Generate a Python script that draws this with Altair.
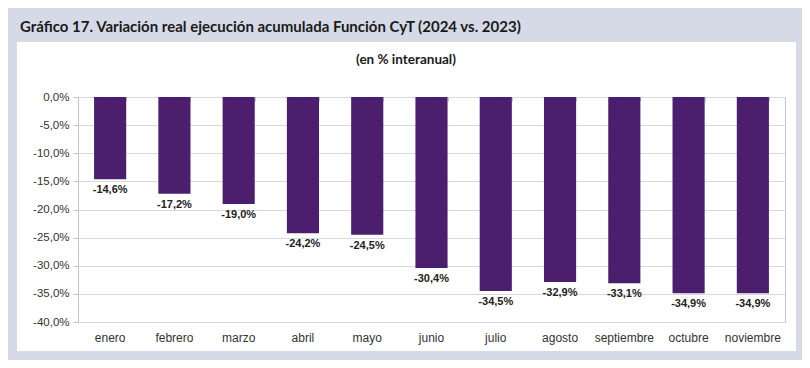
import altair as alt
import pandas as pd

months = ["enero", "febrero", "marzo", "abril", "mayo", "junio", "julio",
          "agosto", "septiembre", "octubre", "noviembre"]
values = [-14.6, -17.2, -19.0, -24.2, -24.5, -30.4, -34.5, -32.9, -33.1, -34.9, -34.9]
y_ticks = [0, -5, -10, -15, -20, -25, -30, -35, -40]
title_text = "Gráfico 17. Variación real ejecución acumulada Función CyT (2024 vs. 2023)"
subtitle_text = "(en % interanual)"

df = pd.DataFrame({"mes": months, "valor": values})
df["etiqueta"] = [f"{v:.1f}".replace(".", ",") + "%" for v in values]

PANEL = "#d5dae6"
BAR = "#4b1f6e"
LINE = "#c4c4c4"
GRID = "#d9d9d9"

one = pd.DataFrame({"d": [0]})

x_scale = alt.Scale(paddingInner=0.5, paddingOuter=0.25)
x_enc = alt.X("mes:N", sort=months, scale=x_scale,
              axis=alt.Axis(title=None, orient="bottom", domain=False, ticks=False,
                            labelPadding=10, labelAngle=0, labelFont="Liberation Sans",
                            labelFontSize=12, labelColor="#333333"))
y_axis = alt.Axis(title=None, values=y_ticks, domain=True, domainColor=LINE,
                  ticks=True, tickColor=LINE, tickSize=5, labelPadding=4,
                  grid=True, gridColor=GRID, labelOverlap=False,
                  labelExpr="replace(replace(format(datum.value, '.1f'), '.', ','), '\u2212', '-') + '%'",
                  labelFont="Liberation Sans", labelFontSize=11.5,
                  labelColor="#333333")
y_enc = alt.Y("valor:Q", scale=alt.Scale(domain=[-40, 0], nice=False), axis=y_axis)

# decorative panel frame (outside the plot area only)
frame = alt.Chart(one).mark_rect(fillOpacity=0, stroke=PANEL, strokeWidth=18).encode(
    x=alt.value(-70), x2=alt.value(727), y=alt.value(-89), y2=alt.value(263))
topbar = alt.Chart(one).mark_rect(color=PANEL).encode(
    x=alt.value(-70), x2=alt.value(727), y=alt.value(-89), y2=alt.value(-55))

bars = alt.Chart(df).mark_bar(color=BAR).encode(x=x_enc, y=y_enc)

labels = alt.Chart(df).mark_text(baseline="top", dy=5, font="Liberation Sans",
                                 fontSize=11, fontWeight="bold", color="#222222").encode(
    x=alt.X("mes:N", sort=months, scale=x_scale,
            axis=alt.Axis(title=None, orient="top", domain=False, labels=False,
                          ticks=True, tickSize=4, tickColor=LINE, tickBand="extent",
                          offset=-4)),
    y=y_enc,
    text="etiqueta:N")

title = alt.Chart(pd.DataFrame({"t": [title_text]})).mark_text(
    align="left", baseline="alphabetic", font="Lato", fontSize=15,
    fontWeight="bold", color="#1a1a1a").encode(
    text="t:N", x=alt.value(-58), y=alt.value(-65))

subtitle = alt.Chart(pd.DataFrame({"t": [subtitle_text]})).mark_text(
    align="center", baseline="alphabetic", font="Lato", fontSize=13.5,
    fontWeight="bold", color="#1a1a1a").encode(
    text="t:N", x=alt.value(328), y=alt.value(-33))

chart = alt.layer(frame, topbar, bars, labels, title, subtitle).resolve_axis(
    x="independent"
).properties(
    width=707, height=225,
    padding={"left": 70, "top": 89, "right": 17, "bottom": 38},
    autosize=alt.AutoSizeParams(type="none"),
    background="white",
).configure_view(stroke=LINE, strokeWidth=1)

chart.save("out.html", embed_options={"renderer": "svg", "actions": False})
